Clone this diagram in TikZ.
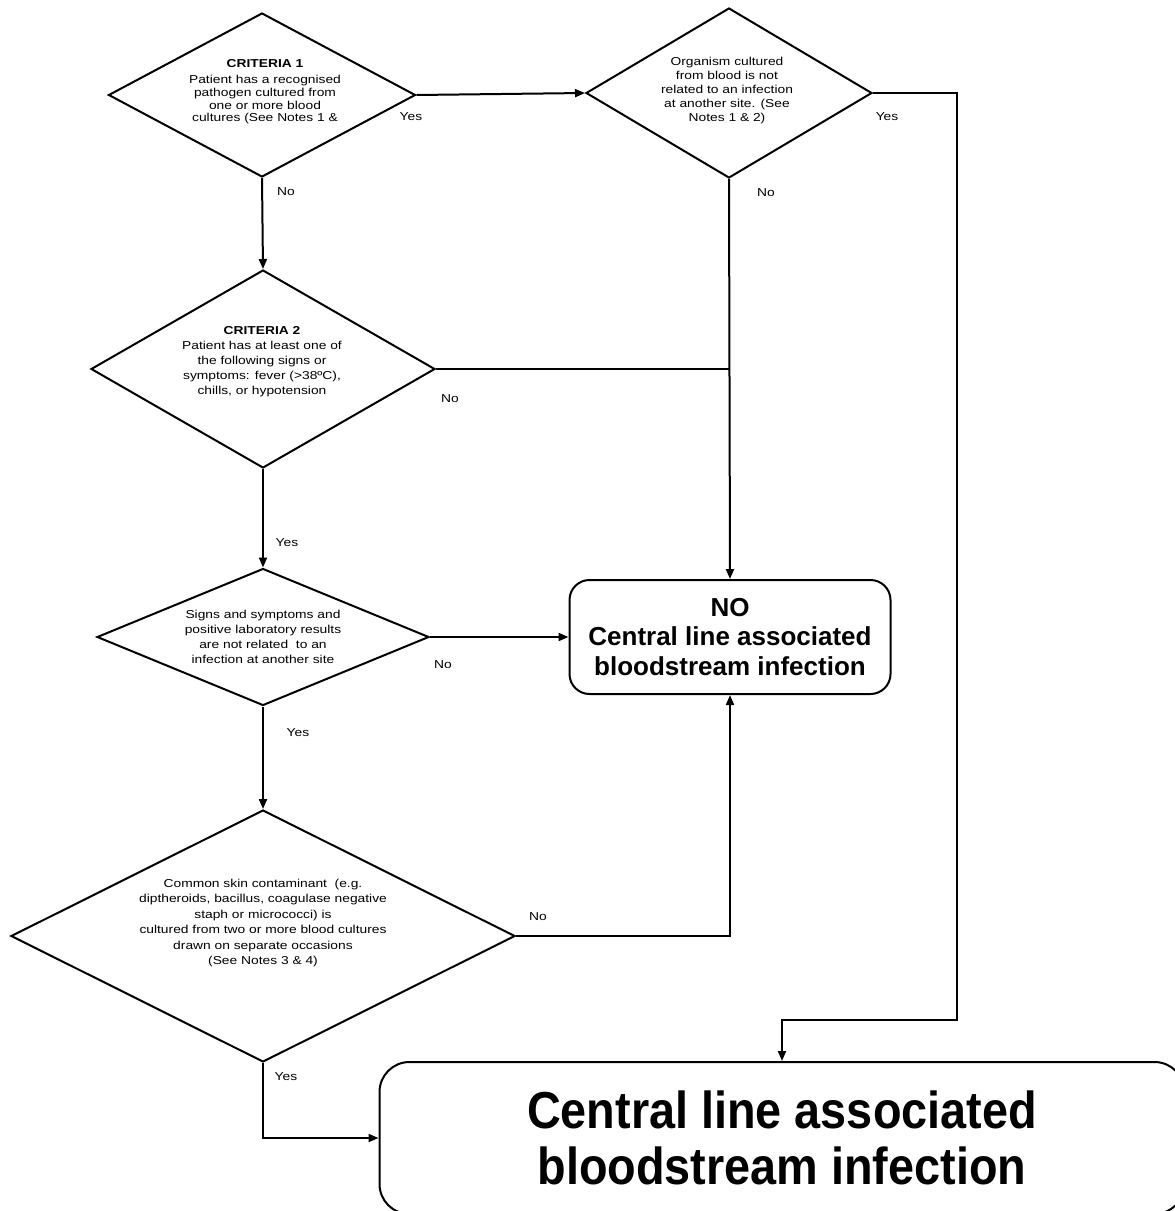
\documentclass[tikz,border=0pt]{standalone}
\usepackage{fontspec}
\setmainfont{Liberation Sans}
\newfontfamily\smallf[FakeStretch=1.2]{Liberation Sans}
\newfontfamily\bigf[FakeStretch=0.9]{Liberation Sans}
\usetikzlibrary{shapes.geometric,arrows.meta}
\tikzset{
  dia/.style={shape=diamond, draw, line width=2pt, inner sep=0pt},
  dtext/.style={align=center, inner sep=0pt, font=\smallf\fontsize{11.5}{15}\selectfont},
  lbl/.style={inner sep=0pt, font=\smallf\fontsize{11.5}{13}\selectfont},
  ln/.style={line width=2pt},
  arr/.style={line width=2pt, -{Triangle[length=10pt,width=8pt]}},
  rbox/.style={draw, line width=2pt, align=center, inner sep=0pt},
}
\begin{document}
\begin{tikzpicture}[x=1pt,y=-1pt]
\clip (0,0) rectangle (1175,1211);
\fill[white] (0,0) rectangle (1175,1211);
% diamonds
\node[dia, minimum width=307pt, minimum height=164pt] (d1) at (262,95) {};
\node[dia, minimum width=286pt, minimum height=170pt] (d2) at (729,93) {};
\node[dia, minimum width=344pt, minimum height=198pt] (d3) at (263,369) {};
\node[dia, minimum width=332pt, minimum height=137pt] (d4) at (263,637) {};
\node[dia, minimum width=504pt, minimum height=252pt] (d5) at (263,936) {};
% diamond texts
\node[dtext, font=\smallf\fontsize{11.5}{12.7}\selectfont] (d1t) at (265,92) {\textbf{CRITERIA 1}\\[3pt]Patient has a recognised\\pathogen cultured from\\one or more blood\\cultures (See Notes 1 \&};
\node[dtext, font=\smallf\fontsize{11.5}{14}\selectfont] (d2t) at (727,91) {Organism cultured\\from blood is not\\related to an infection\\at another site. (See\\Notes 1 \& 2)};
\node[dtext] (d3t) at (262,362) {\textbf{CRITERIA 2}\\Patient has at least one of\\the following signs or\\symptoms: fever (>38ºC),\\chills, or hypotension};
\node[dtext] (d4t) at (263,637) {Signs and symptoms and\\positive laboratory results\\are not related\ \ to an\\infection at another site};
\node[dtext, font=\smallf\fontsize{11.5}{15.4}\selectfont] (d5t) at (263,923) {Common skin contaminant\ \ (e.g.\\diptheroids, bacillus, coagulase negative\\staph or micrococci) is\\cultured from two or more blood cultures\\drawn on separate occasions\\(See Notes 3 \& 4)};
% result boxes
\node[rbox, rounded corners=20pt, minimum width=321pt, minimum height=114pt,
      font=\bfseries\fontsize{26}{29.5}\selectfont] (nobox) at (730,637)
      {NO\\Central line associated\\bloodstream infection};
\node[rbox, rounded corners=30pt, minimum width=805pt, minimum height=152pt,
      font=\bigf\bfseries\fontsize{52}{56}\selectfont] (fin) at (782,1138)
      {Central line associated\\bloodstream infection};
% helper coordinate
\coordinate (c1) at (957,1020);
% connectors
\draw[arr] (d1.east) -- (d2.west);
\draw[arr] (d2.east) -| (c1) -| (fin.north);
\draw[arr] (d2.south) -- (nobox.north);
\draw[arr] (d1.south) -- (d3.north);
\draw[ln] (d3.east) -- (d3.east -| d2.south);
\draw[arr] (d3.south) -- (d4.north);
\draw[arr] (d4.east) -- (nobox.west);
\draw[arr] (d4.south) -- (d5.north);
\draw[arr] (d5.east) -| (nobox.south);
\draw[arr] (d5.south) |- (fin.west);
% labels
\node[lbl] (l1) at (411,117) {Yes};
\node[lbl] (l2) at (286,192) {No};
\node[lbl] (l3) at (887,117) {Yes};
\node[lbl] (l4) at (766,193) {No};
\node[lbl] (l5) at (450,399) {No};
\node[lbl] (l6) at (287,543) {Yes};
\node[lbl] (l7) at (443,665) {No};
\node[lbl] (l8) at (298,733) {Yes};
\node[lbl] (l9) at (538,917) {No};
\node[lbl] (l10) at (286,1077) {Yes};
\end{tikzpicture}
\end{document}
